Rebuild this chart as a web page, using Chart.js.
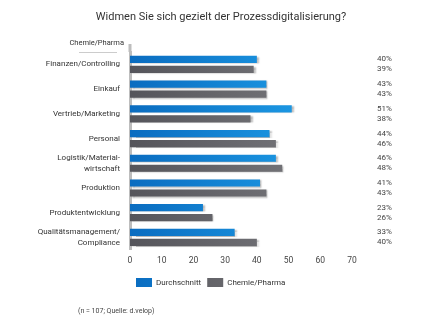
<!DOCTYPE html>
<html>
<head>
<meta charset="utf-8">
<script src="https://cdn.jsdelivr.net/npm/chart.js@4.4.1/dist/chart.umd.min.js"></script>
<style>
  html, body { margin: 0; padding: 0; background: #fff; }
  #wrap { width: 430px; height: 323px; }
</style>
</head>
<body>
<div id="wrap"><canvas id="chart"></canvas></div>
<script>
const categories = [
    'Finanzen/Controlling',
    'Einkauf',
    'Vertrieb/Marketing',
    'Personal',
    ['Logistik/Material-', 'wirtschaft'],
    'Produktion',
    'Produktentwicklung',
    ['Qualitätsmanagement/', 'Compliance']
];
const durchschnitt = [40, 43, 51, 44, 46, 41, 23, 33];
const chemiePharma = [39, 43, 38, 46, 48, 43, 26, 40];
const seriesNames = ['Durchschnitt', 'Chemie/Pharma'];
const xTicks = [0, 10, 20, 30, 40, 50, 60, 70];

const FONT = 'Roboto, "Liberation Sans", sans-serif';

function gradient(ctx, from, to) {
    const area = ctx.chart.chartArea;
    if (!area) return from;
    const g = ctx.chart.ctx.createLinearGradient(area.left, 0, area.left + 200, 0);
    g.addColorStop(0, from);
    g.addColorStop(1, to);
    return g;
}

// shadow under the bars + extra texts
const extras = {
    id: 'extras',
    beforeDatasetsDraw(chart) {
        const c = chart.ctx;
        c.save();
        c.shadowColor = 'rgba(0,0,0,0.28)';
        c.shadowOffsetX = 2;
        c.shadowOffsetY = 1;
        c.shadowBlur = 1.5;
    },
    afterDatasetsDraw(chart) {
        chart.ctx.restore();
    },
    afterDraw(chart) {
        const c = chart.ctx;
        const area = chart.chartArea;
        c.save();
        // axis line runs a bit above the plot
        c.strokeStyle = '#bdbdbd';
        c.lineWidth = 3;
        c.beginPath();
        c.moveTo(area.left, 44);
        c.lineTo(area.left, area.top);
        c.stroke();
        // title
        c.fillStyle = '#333';
        c.font = '11px ' + FONT;
        c.textAlign = 'center';
        c.textBaseline = 'middle';
        c.fillText('Widmen Sie sich gezielt der Prozessdigitalisierung?', 221, 17);
        // percentages
        c.fillStyle = '#444';
        c.font = '8px ' + FONT;
        c.textAlign = 'left';
        chart.data.datasets.forEach((ds, i) => {
            chart.getDatasetMeta(i).data.forEach((bar, j) => {
                c.fillText(ds.data[j] + '%', 377, bar.y);
            });
        });
        // header above the category labels
        c.fillStyle = '#333';
        c.font = '7.5px ' + FONT;
        c.textAlign = 'right';
        c.fillText('Chemie/Pharma', 124, 43);
        c.strokeStyle = '#ccc';
        c.lineWidth = 1;
        c.beginPath();
        c.moveTo(79, 52.5);
        c.lineTo(117, 52.5);
        c.stroke();
        // footnote
        c.fillStyle = '#444';
        c.font = '7px ' + FONT;
        c.textAlign = 'left';
        c.fillText('(n = 107; Quelle: d.velop)', 78, 311);
        c.restore();
    }
};

new Chart(document.getElementById('chart'), {
    type: 'bar',
    data: {
        labels: categories,
        datasets: [{
            label: seriesNames[0],
            data: durchschnitt,
            backgroundColor: ctx => gradient(ctx, '#0a6cc0', '#1fa0ea'),
            categoryPercentage: 0.81,
            barPercentage: 0.72
        }, {
            label: seriesNames[1],
            data: chemiePharma,
            backgroundColor: ctx => gradient(ctx, '#55555b', '#7a7a7e'),
            categoryPercentage: 0.81,
            barPercentage: 0.72
        }]
    },
    plugins: [extras],
    options: {
        indexAxis: 'y',
        responsive: true,
        maintainAspectRatio: false,
        animation: false,
        layout: { padding: { top: 52, right: 78, bottom: 26, left: 0 } },
        scales: {
            x: {
                min: 0,
                max: 70,
                afterBuildTicks: axis => { axis.ticks = xTicks.map(v => ({ value: v })); },
                grid: { display: false, drawTicks: false },
                border: { display: false },
                ticks: { color: '#444', font: { family: FONT, size: 8.5 }, padding: 6, autoSkip: false }
            },
            y: {
                afterFit: axis => { axis.width = 130; },
                grid: { display: false, drawTicks: false },
                border: { display: true, color: '#bdbdbd', width: 3 },
                ticks: { color: '#333', font: { family: FONT, size: 8, lineHeight: 1.35 }, padding: 10, autoSkip: false }
            }
        },
        plugins: {
            title: { display: false },
            legend: {
                position: 'bottom',
                fullSize: false,
                align: 'start',
                labels: {
                    boxWidth: 16,
                    boxHeight: 9,
                    padding: 6,
                    color: '#333',
                    font: { family: FONT, size: 8 }
                }
            },
            tooltip: { enabled: false }
        }
    }
});
</script>
</body>
</html>
